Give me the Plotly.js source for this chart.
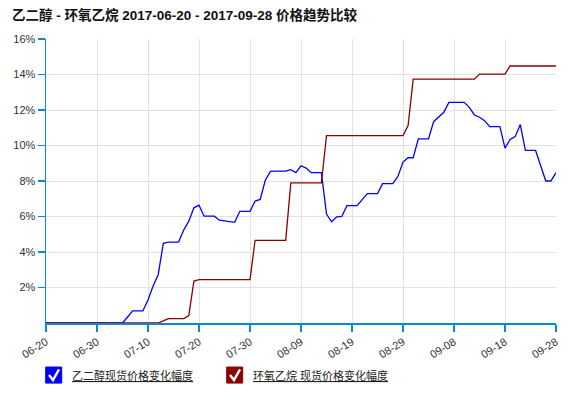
<!DOCTYPE html>
<html>
<head>
<meta charset="utf-8">
<script src="https://cdn.plot.ly/plotly-3.0.1.min.js"></script>
<style>
  html, body { margin:0; padding:0; background:#fff; }
  #chart { width:573px; height:400px; }
</style>
</head>
<body>
<div id="chart"></div>
<script>
///////////////////////////////////////////////////////////////////////////////
// data, one value per day from 2017-06-20 to 2017-09-28 (percent change)
const start_date = '2017-06-20';
const day_count = 101;

const tick_dates = ['2017-06-20','2017-06-30','2017-07-10','2017-07-20','2017-07-30','2017-08-09',
                    '2017-08-19','2017-08-29','2017-09-08','2017-09-18','2017-09-28'];
const tick_labels = ['06-20','06-30','07-10','07-20','07-30','08-09','08-19','08-29','09-08','09-18','09-28'];
const y_ticks = [2, 4, 6, 8, 10, 12, 14, 16];

const series_names = ['乙二醇现货价格变化幅度', '环氧乙烷 现货价格变化幅度'];

const glycol = [
    0, 0, 0, 0, 0, 0, 0, 0, 0, 0,
    0, 0, 0, 0, 0, 0, 0.34, 0.68, 0.68, 0.68,
    1.3, 2.08, 2.72, 4.49, 4.56, 4.56, 4.56, 5.24, 5.74, 6.49,
    6.64, 6.02, 6.02, 6.02, 5.79, 5.74, 5.69, 5.67, 6.29, 6.29,
    6.29, 6.87, 6.96, 8.04, 8.54, 8.56, 8.56, 8.56, 8.64, 8.47,
    8.86, 8.73, 8.47, 8.47, 8.47, 6.14, 5.70, 5.98, 6.0, 6.61,
    6.61, 6.61, 6.95, 7.29, 7.29, 7.29, 7.85, 7.85, 7.85, 8.26,
    9.07, 9.31, 9.31, 10.37, 10.37, 10.37, 11.34, 11.62, 11.87, 12.43,
    12.43, 12.43, 12.43, 12.15, 11.72, 11.59, 11.4, 11.06, 11.06, 11.06,
    9.85, 10.34, 10.5, 11.18, 9.72, 9.72, 9.72, 8.86, 8.0, 8.0,
    8.47
];

const oxide = [
    0, 0, 0, 0, 0, 0, 0, 0, 0, 0,
    0, 0, 0, 0, 0, 0, 0, 0, 0, 0,
    0, 0, 0, 0.12, 0.25, 0.25, 0.25, 0.25, 0.42, 2.36,
    2.44, 2.44, 2.44, 2.44, 2.44, 2.44, 2.44, 2.44, 2.44, 2.44,
    2.44, 4.66, 4.66, 4.66, 4.66, 4.66, 4.66, 4.66, 7.89, 7.89,
    7.89, 7.89, 7.89, 7.89, 7.89, 10.56, 10.56, 10.56, 10.56, 10.56,
    10.56, 10.56, 10.56, 10.56, 10.56, 10.56, 10.56, 10.56, 10.56, 10.56,
    10.56, 11.12, 13.74, 13.74, 13.74, 13.74, 13.74, 13.74, 13.74, 13.74,
    13.74, 13.74, 13.74, 13.74, 13.74, 14.02, 14.02, 14.02, 14.02, 14.02,
    14.02, 14.48, 14.48, 14.48, 14.48, 14.48, 14.48, 14.48, 14.48, 14.48,
    14.48
];


///////////////////////////////////////////////////////////////////////////////
function make_dates()
{
    let dates = [];
    let d0 = new Date(start_date + 'T00:00:00Z');
    for(let i = 0; i < day_count; i++) {
        let d = new Date(d0.getTime() + i * 86400000);
        dates.push(d.toISOString().slice(0, 10));
    }
    return dates;
}


///////////////////////////////////////////////////////////////////////////////
// plot box in pixels, used to place the hand-made legend below the axes
const box = {l:46.3, r:556.3, t:39.3, b:323};
function px(x) { return (x - box.l) / (box.r - box.l); }
function py(y) { return (box.b - y) / (box.b - box.t); }

function legend_item(x0, color, label, shapes, annotations)
{
    // checkbox
    shapes.push({
        type:'rect', xref:'paper', yref:'paper', layer:'above',
        x0:px(x0), x1:px(x0 + 16), y0:py(383), y1:py(367),
        fillcolor:color, line:{color:color, width:1},
    });
    // tick inside the box
    shapes.push({
        type:'path', xref:'paper', yref:'paper', layer:'above',
        path:'M ' + px(x0 + 3.3) + ' ' + py(375) +
             ' L ' + px(x0 + 7.3) + ' ' + py(380) +
             ' L ' + px(x0 + 13.3) + ' ' + py(369.3),
        line:{color:'white', width:2.4},
    });
    annotations.push({
        xref:'paper', yref:'paper', x:px(x0 + 24), y:py(375),
        xanchor:'left', yanchor:'middle', showarrow:false,
        text:'<u>' + label + '</u>',
        font:{size:11, color:'#222'},
    });
}


///////////////////////////////////////////////////////////////////////////////
function graph_create(container)
{
    let dates = make_dates();
    let plot_traces = [];
    let shapes = [];
    let annotations = [];

    plot_traces.push({
        x:dates, y:glycol, name:series_names[0],
        type:'scatter', mode:'lines',
        line:{color:'#0000ff', width:1.3},
    });
    plot_traces.push({
        x:dates, y:oxide, name:series_names[1],
        type:'scatter', mode:'lines',
        line:{color:'#8b0000', width:1.3},
    });

    legend_item(46, '#0000ff', series_names[0], shapes, annotations);
    legend_item(227, '#8b0000', series_names[1], shapes, annotations);

    let plot_layout =
    {
        width:573, height:400,
        font:{family:'"Liberation Sans", Arial, "Noto Sans CJK SC", sans-serif', color:'#333', size:11},
        margin:{l:box.l, r:573 - box.r, t:box.t, b:400 - box.b, pad:0},
        plot_bgcolor:'white',
        paper_bgcolor:'white',
        showlegend:false,
        title:{
            text:'<b>乙二醇 - 环氧乙烷 2017-06-20 - 2017-09-28 价格趋势比较</b>',
            x:12 / 573, xref:'container', xanchor:'left',
            y:1 - 15 / 400, yref:'container', yanchor:'middle',
            font:{size:13.5, color:'#111'},
        },
        xaxis:{
            type:'date',
            range:[start_date, '2017-09-28'],
            tickvals:tick_dates, ticktext:tick_labels,
            tickangle:-32,
            ticks:'outside', ticklen:7, tickwidth:1.2, tickcolor:'#0a8bd0',
            tickfont:{size:11, color:'#333'},
            showgrid:true, gridcolor:'#e2e2e2', gridwidth:1,
            showline:true, linecolor:'#0a8bd0', linewidth:1.5,
            zeroline:false, fixedrange:true,
        },
        yaxis:{
            range:[0, 16],
            tickvals:y_ticks, ticktext:y_ticks.map(v => v + '%'),
            ticks:'outside', ticklen:7, tickwidth:1.2, tickcolor:'#0a8bd0',
            tickfont:{size:11, color:'#333'},
            showgrid:true, gridcolor:'#e2e2e2', gridwidth:1,
            showline:true, linecolor:'#0a8bd0', linewidth:1.5,
            zeroline:false, fixedrange:true,
        },
        shapes:shapes,
        annotations:annotations,
    };

    Plotly.newPlot(document.getElementById(container), plot_traces, plot_layout, {displayModeBar:false, staticPlot:true});
}

graph_create('chart');
</script>
</body>
</html>
